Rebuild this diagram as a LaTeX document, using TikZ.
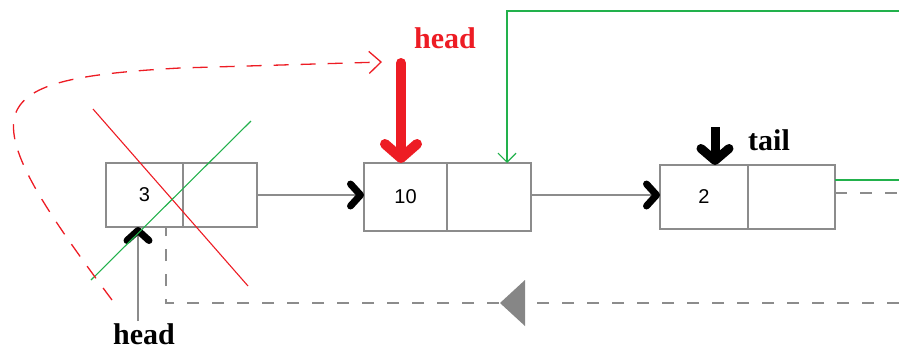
\documentclass[tikz,border=0pt]{standalone}
\usepackage{fontspec}
\setmainfont{Liberation Serif}
\newfontfamily\digitfont{Liberation Sans}
\usetikzlibrary{arrows.meta}
\definecolor{pred}{RGB}{237,28,36}
\definecolor{pgreen}{RGB}{34,177,76}
\definecolor{bgray}{RGB}{140,140,140}
\tikzset{
  cell/.style={draw=bgray, line width=2pt, inner sep=0pt, outer sep=0pt,
    font=\digitfont\fontsize{20}{24}\selectfont},
  link/.style={draw=bgray, line width=1.6pt,
    -{Straight Barb[length=10pt,width=22pt,line width'=7pt,round,black]}},
  dashlink/.style={draw=bgray, line width=2pt, dash pattern=on 12pt off 13pt},
  lbl/.style={font=\bfseries\fontsize{30}{34}\selectfont, anchor=base, inner sep=0pt},
  reddash/.style={draw=pred, line width=1.3pt, dash pattern=on 15pt off 12pt,
    -{Straight Barb[length=12pt,width=22pt,line width=1.3pt]}},
  cross/.style={line width=1.1pt},
}
\begin{document}
\begin{tikzpicture}[x=1pt,y=-1pt]
\useasboundingbox (0,0) rectangle (899,349);
% nodes (boxes)
\node[cell, minimum width=77pt, minimum height=64pt] (a1) at (144.5,195) {3};
\node[cell, minimum width=74pt, minimum height=64pt] (a2) at (220,195) {};
\node[cell, minimum width=83pt, minimum height=68pt] (b1) at (405.5,197) {10};
\node[cell, minimum width=84pt, minimum height=68pt] (b2) at (489,197) {};
\node[cell, minimum width=88pt, minimum height=64pt] (c1) at (704,197) {2};
\node[cell, minimum width=87pt, minimum height=64pt] (c2) at (791.5,197) {};
% labels
\node[lbl, text=pred] (hred) at (445,48) {head};
\node[lbl] (tl) at (769,150) {tail};
\node[lbl] (hblk) at (144,344) {head};
% coordinates
\coordinate (redtop) at (401,63);
\coordinate (tailtop) at (715,127);
\coordinate (hbot) at (138,321);
\coordinate (gx) at (507,0);
\coordinate (gtopR) at (899,11);
\coordinate (gtopL) at (507,11);
\coordinate (gR) at (899,180);
\coordinate (dR1) at (899,193);
\coordinate (dR2) at (899,303);
\coordinate (dL) at (166,303);
\coordinate (dx) at (166,0);
\coordinate (rd0) at (112,300);
\coordinate (rd1) at (382,62);
% connectors
\draw[link] (a2.east) -- (a2.east -| b1.west);
\draw[link] (b2.east |- a2.east) -- (c1.west |- a2.east);
% green
\draw[pgreen, line width=1.4pt] (c2.east |- gR) -- (gR);
\draw[pgreen, line width=1.4pt, -{Straight Barb[length=9pt,width=18pt,line width=1.2pt]}]
  (gtopR) -- (gtopL) -- (gx |- b2.north);
% gray dashed return
\draw[dashlink] (c2.east |- dR1) -- (dR1);
\draw[dashlink] (dR2) -- (dL) -- (dx |- a1.south);
\fill[gray!95] (500,303) -- (525,280) -- (525,326) -- cycle;
% head / tail arrows
\draw[pred, line width=10pt, line cap=round,
  -{Straight Barb[length=14pt,width=32pt,line width'=10pt,round]}]
  (redtop) -- (redtop |- b1.north);
\draw[black, line width=9pt,
  -{Straight Barb[length=12pt,width=28pt,line width'=9pt,round]}]
  (tailtop) -- (tailtop |- c1.north);
\draw[link] (hbot) -- (hbot |- a1.south);
% crossing-out lines
\draw[pred, cross] (93,109) -- (248,286);
\draw[pgreen, cross] (91,280) -- (251,121);
% red dashed curve
\draw[reddash] (rd0) .. controls (45,210) and (5,150) .. (15,115)
  .. controls (25,85) and (70,74) .. (180,68) -- (rd1);
\end{tikzpicture}
\end{document}
